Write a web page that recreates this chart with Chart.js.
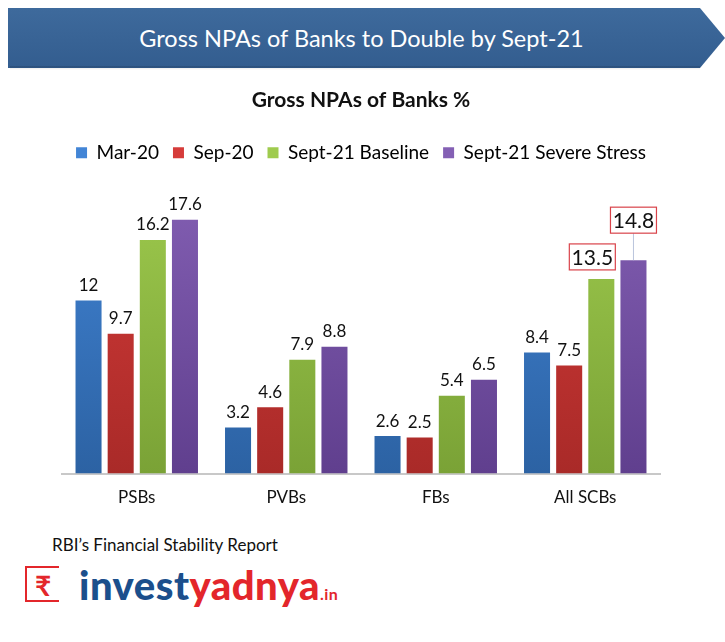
<!DOCTYPE html>
<html>
<head>
<meta charset="utf-8">
<script src="https://cdn.jsdelivr.net/npm/chart.js@4.4.0/dist/chart.umd.min.js"></script>
<style>
  body { margin: 0; background: #fff; width: 725px; height: 642px; position: relative; overflow: hidden; font-family: Lato, "Open Sans", sans-serif; }
  #banner {
    position: absolute; left: 8px; top: 8px; width: 717px; height: 60px;
    background: linear-gradient(#3e6a9c, #335d8f);
    clip-path: polygon(0 0, 692px 0, 717px 30px, 692px 60px, 0 60px);
    color: #fff; font-size: 23.5px; line-height: 60px; text-align: center;
    text-indent: -10px;
  }
  #shadow {
    position: absolute; left: 10px; top: 66px; width: 690px; height: 4px;
    background: linear-gradient(rgba(0,0,0,0.15), rgba(0,0,0,0));
  }
  #chartBox { position: absolute; left: 0; top: 80px; width: 725px; height: 448px; }
  #source { position: absolute; left: 52px; top: 534px; font-size: 17px; color: #111; }
  #logo { position: absolute; left: 25px; top: 563px; height: 44px; }
  #logo .mark {
    position: absolute; left: 0; top: 3px; width: 34px; height: 36px;
    border: 2px solid #e3262b; border-right: none; box-sizing: border-box;
    color: #e3262b; font-weight: bold; font-size: 28px; line-height: 34px; text-align: center;
  }
  #logo .name {
    position: absolute; left: 54px; top: -2px; font-size: 40px; font-weight: 900; white-space: nowrap;
    letter-spacing: 0.5px;
  }
  #logo .b { color: #1b4f8c; }
  #logo .r { color: #e3262b; }
  #logo .in { color: #e3262b; font-size: 16px; font-weight: bold; }
</style>
</head>
<body>
<div id="banner">Gross NPAs of Banks to Double by Sept-21</div>
<div id="shadow"></div>
<div id="chartBox"><canvas id="barChart"></canvas></div>
<div id="source">RBI’s Financial Stability Report</div>
<div id="logo">
  <div class="mark">₹</div>
  <div class="name"><span class="b">invest</span><span class="r">yadnya</span><span class="in">.in</span></div>
</div>
<script>
// Chart data
const categories = ['PSBs', 'PVBs', 'FBs', 'All SCBs'];
const seriesNames = ['Mar-20', 'Sep-20', 'Sept-21 Baseline', 'Sept-21 Severe Stress'];
const mar20 = [12, 3.2, 2.6, 8.4];
const sep20 = [9.7, 4.6, 2.5, 7.5];
const sept21Baseline = [16.2, 7.9, 5.4, 13.5];
const sept21Severe = [17.6, 8.8, 6.5, 14.8];

// Colours (top, bottom) for the bar gradients
const colorPairs = [
    ['#4285d6', '#2c62a3'],
    ['#d63c3a', '#a92a28'],
    ['#9fcb4e', '#7aa236'],
    ['#8460b4', '#603f8e']
];

function barGradient(context, idx) {
    const chart = context.chart;
    const area = chart.chartArea;
    if (!area) {
        return colorPairs[idx][0];
    }
    const g = chart.ctx.createLinearGradient(0, area.top, 0, area.bottom);
    g.addColorStop(0, colorPairs[idx][0]);
    g.addColorStop(1, colorPairs[idx][1]);
    return g;
}

// Value labels above the bars, boxed ones for All SCBs stress values
const valueLabels = {
    id: 'valueLabels',
    afterDatasetsDraw(chart) {
        const ctx = chart.ctx;
        ctx.save();
        ctx.textAlign = 'center';
        ctx.textBaseline = 'middle';
        chart.data.datasets.forEach((ds, di) => {
            const meta = chart.getDatasetMeta(di);
            meta.data.forEach((bar, i) => {
                const v = ds.data[i];
                const boxed = i === 3 && di >= 2;
                if (!boxed) {
                    ctx.font = '17px Lato, "Open Sans", sans-serif';
                    ctx.fillStyle = '#111';
                    ctx.fillText(String(v), bar.x, bar.y - 15);
                    return;
                }
                ctx.font = '21px Lato, "Open Sans", sans-serif';
                const w = 46, h = 26;
                let cx = bar.x, cy = bar.y - 22;
                if (di === 2) {
                    cx = bar.x - 9;
                } else {
                    cy = bar.y - 40;
                    // leader line
                    ctx.strokeStyle = '#b9c4dc';
                    ctx.lineWidth = 1;
                    ctx.beginPath();
                    ctx.moveTo(cx, cy + h / 2);
                    ctx.lineTo(bar.x, bar.y);
                    ctx.stroke();
                }
                ctx.fillStyle = '#fff';
                ctx.fillRect(cx - w / 2, cy - h / 2, w, h);
                ctx.strokeStyle = '#d9434a';
                ctx.lineWidth = 1.2;
                ctx.strokeRect(cx - w / 2, cy - h / 2, w, h);
                ctx.fillStyle = '#111';
                ctx.fillText(String(v), cx, cy + 1);
            });
        });
        ctx.restore();
    }
};

const allSeries = [mar20, sep20, sept21Baseline, sept21Severe];

const data = {
    labels: categories,
    datasets: allSeries.map((values, idx) => ({
        label: seriesNames[idx],
        data: values,
        backgroundColor: context => barGradient(context, idx),
        borderWidth: 0,
        categoryPercentage: 0.86,
        barPercentage: 0.81
    }))
};

const options = {
    responsive: true,
    maintainAspectRatio: false,
    animation: false,
    layout: {
        padding: { left: 62, right: 65, top: 0, bottom: 6 }
    },
    plugins: {
        title: {
            display: true,
            text: 'Gross NPAs of Banks %',
            color: '#111',
            font: { family: 'Lato', size: 21, weight: 'bold' },
            padding: { top: 8, bottom: 16 }
        },
        legend: {
            labels: {
                color: '#111',
                font: { family: 'Lato', size: 19 },
                boxWidth: 11,
                boxHeight: 11,
                padding: 14,
                generateLabels(chart) {
                    return chart.data.datasets.map((ds, i) => ({
                        text: ds.label,
                        fillStyle: colorPairs[i][0],
                        strokeStyle: colorPairs[i][0],
                        lineWidth: 0,
                        datasetIndex: i
                    }));
                }
            }
        },
        tooltip: { enabled: false }
    },
    scales: {
        x: {
            grid: { display: false, drawTicks: false },
            border: { color: '#c8c8c8', width: 2 },
            ticks: { color: '#111', font: { family: 'Lato', size: 17 }, padding: 14 }
        },
        y: {
            display: false,
            min: 0,
            max: 20.9
        }
    }
};

window.myBarChart = new Chart(document.getElementById('barChart').getContext('2d'), {
    type: 'bar',
    data: data,
    options: options,
    plugins: [valueLabels]
});
</script>
</body>
</html>
